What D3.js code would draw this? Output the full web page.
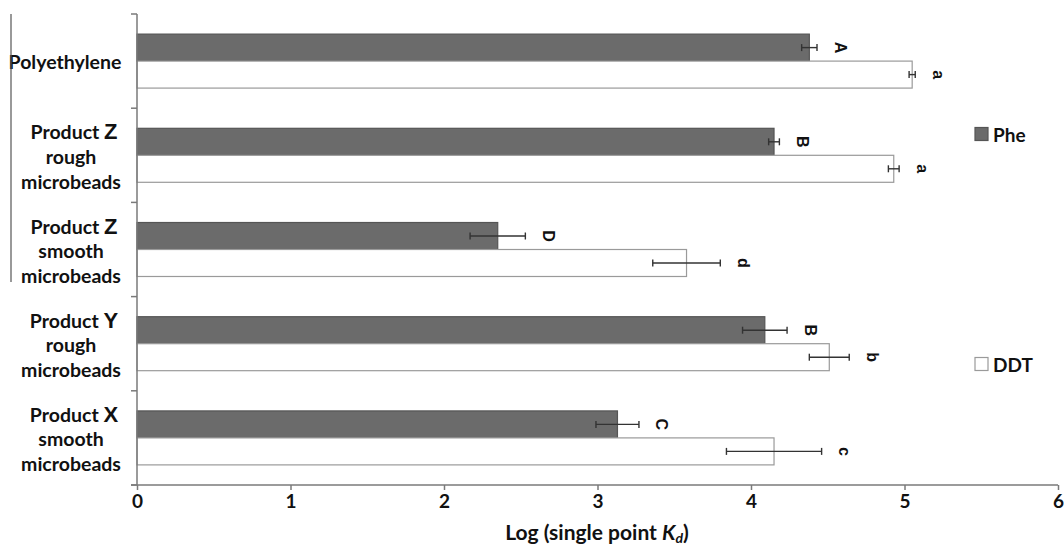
<!DOCTYPE html>
<html>
<head>
<meta charset="utf-8">
<script src="https://cdn.jsdelivr.net/npm/d3@7"></script>
<style>
  body { margin: 0; background: #fff; }
  svg text { font-family: Lato, "Open Sans", sans-serif; }
</style>
</head>
<body>
<div id="chart"></div>
<script>
// Data
const categories = ['Polyethylene', 'Product Z rough', 'Product Z smooth', 'Product Y rough', 'Product X smooth'];
const productLetters = ['', 'Z', 'Z', 'Y', 'X'];
const surfaceWords = ['', 'rough', 'smooth', 'rough', 'smooth'];
const series = ['Phe', 'DDT'];

const pheValues = [4.38, 4.15, 2.35, 4.09, 3.13];
const pheErrors = [0.05, 0.035, 0.18, 0.145, 0.14];
const pheLetters = ['A', 'B', 'D', 'B', 'C'];

const ddtValues = [5.05, 4.93, 3.58, 4.51, 4.15];
const ddtErrors = [0.02, 0.035, 0.22, 0.13, 0.31];
const ddtLetters = ['a', 'a', 'd', 'b', 'c'];

const xTicks = [0, 1, 2, 3, 4, 5, 6];

const width = 1064, height = 548;
const plotLeft = 137, plotRight = 1058, plotTop = 14, plotBottom = 485;

const svg = d3.select('#chart')
    .append('svg')
    .attr('width', width)
    .attr('height', height);

const x = d3.scaleLinear().domain([0, 6]).range([plotLeft, plotRight]);
const y = d3.scaleBand().domain(categories).range([plotTop, plotBottom]);
const ySub = d3.scaleBand().domain(series).range([0, y.bandwidth()]).paddingOuter(0.745);

const colors = { Phe: '#6b6b6b', DDT: '#ffffff' };
const strokes = { Phe: '#555555', DDT: '#9a9a9a' };

// rows per bar
const rows = [];
categories.forEach((c, i) => {
    rows.push({ cat: c, s: 'Phe', v: pheValues[i], e: pheErrors[i], l: pheLetters[i] });
    rows.push({ cat: c, s: 'DDT', v: ddtValues[i], e: ddtErrors[i], l: ddtLetters[i] });
});

// bars
svg.selectAll('.bar')
    .data(rows)
    .enter().append('rect')
    .attr('class', 'bar')
    .attr('x', x(0))
    .attr('y', d => y(d.cat) + ySub(d.s))
    .attr('width', d => x(d.v) - x(0))
    .attr('height', ySub.bandwidth())
    .attr('fill', d => colors[d.s])
    .attr('stroke', d => strokes[d.s])
    .attr('stroke-width', 1.2);

// error bars
const err = svg.append('g').attr('stroke', '#333').attr('stroke-width', 1.4);
rows.forEach(d => {
    const cy = y(d.cat) + ySub(d.s) + ySub.bandwidth() / 2;
    err.append('line').attr('x1', x(d.v - d.e)).attr('x2', x(d.v + d.e)).attr('y1', cy).attr('y2', cy);
    [d.v - d.e, d.v + d.e].forEach(xv => {
        err.append('line').attr('x1', x(xv)).attr('x2', x(xv)).attr('y1', cy - 3.5).attr('y2', cy + 3.5);
    });
});

// significance letters, rotated
svg.selectAll('.sig')
    .data(rows)
    .enter().append('text')
    .attr('class', 'sig')
    .attr('transform', d => {
        const cy = y(d.cat) + ySub(d.s) + ySub.bandwidth() / 2;
        return `translate(${x(d.v + d.e) + 23},${cy}) rotate(90)`;
    })
    .attr('text-anchor', 'middle')
    .attr('dominant-baseline', 'central')
    .style('font-family', '"Liberation Sans", Arial, sans-serif')
    .style('font-weight', 'bold')
    .style('font-size', '16px')
    .attr('fill', '#111')
    .text(d => d.l);

// axes
const axisColor = '#7a7a7a';
svg.append('line')
    .attr('x1', plotLeft).attr('x2', plotLeft).attr('y1', plotTop).attr('y2', plotBottom)
    .attr('stroke', axisColor).attr('stroke-width', 1.5);
svg.append('line')
    .attr('x1', plotLeft - 6).attr('x2', plotRight).attr('y1', plotBottom).attr('y2', plotBottom)
    .attr('stroke', axisColor).attr('stroke-width', 1.5);

// y ticks at category boundaries
const yBounds = categories.map(c => y(c)).concat([plotBottom]);
svg.selectAll('.ytick')
    .data(yBounds)
    .enter().append('line')
    .attr('x1', plotLeft - 6).attr('x2', plotLeft)
    .attr('y1', d => d).attr('y2', d => d)
    .attr('stroke', axisColor).attr('stroke-width', 1.5);

const xAxis = svg.append('g')
    .attr('transform', `translate(0,${plotBottom})`)
    .call(d3.axisBottom(x).tickValues(xTicks).tickSize(5).tickPadding(5).tickFormat(d3.format('d')));
xAxis.select('.domain').remove();
xAxis.selectAll('.tick line').attr('stroke', axisColor).attr('stroke-width', 1.5);
xAxis.selectAll('.tick text')
    .attr('fill', '#111')
    .style('font-family', 'Lato, sans-serif')
    .style('font-weight', 'bold')
    .style('font-size', '19px');

// x axis title
const title = svg.append('text')
    .attr('x', 597).attr('y', 540)
    .attr('text-anchor', 'middle')
    .style('font-weight', 'bold')
    .style('font-size', '21px')
    .attr('fill', '#111');
title.append('tspan').text('Log (single point ');
title.append('tspan').style('font-style', 'italic').text('K');
title.append('tspan').style('font-style', 'italic').style('font-size', '14px').attr('dy', 3).text('d');
title.append('tspan').attr('dy', -3).text(')');

// category labels
const labelX = 71;
categories.forEach((c, i) => {
    const cy = y(c) + y.bandwidth() / 2;
    const g = svg.append('g').style('font-weight', 'bold').style('font-size', '19.5px').attr('fill', '#111');
    if (!productLetters[i]) {
        g.append('text').attr('x', 65).attr('y', cy).attr('text-anchor', 'middle')
            .attr('dominant-baseline', 'central').text(c);
        return;
    }
    const l1 = g.append('text').attr('x', labelX + 3).attr('y', cy - 24).attr('text-anchor', 'middle')
        .attr('dominant-baseline', 'central');
    l1.append('tspan').text('Product ');
    l1.append('tspan').style('font-family', '"Liberation Sans", Arial, sans-serif')
        .style('font-size', '22px').text(productLetters[i]);
    g.append('text').attr('x', labelX).attr('y', cy + 1).attr('text-anchor', 'middle')
        .attr('dominant-baseline', 'central').text(surfaceWords[i]);
    g.append('text').attr('x', labelX).attr('y', cy + 26).attr('text-anchor', 'middle')
        .attr('dominant-baseline', 'central').text('microbeads');
});

// stray left frame line
svg.append('line')
    .attr('x1', 11).attr('x2', 11).attr('y1', plotTop).attr('y2', 282)
    .attr('stroke', '#555').attr('stroke-width', 1.2);

// legend
const legendY = [134, 364];
series.forEach((s, i) => {
    svg.append('rect')
        .attr('x', 975).attr('y', legendY[i] - 6.5)
        .attr('width', 13).attr('height', 13)
        .attr('fill', colors[s]).attr('stroke', strokes[s]).attr('stroke-width', 1.2);
    svg.append('text')
        .attr('x', 993).attr('y', legendY[i])
        .attr('dominant-baseline', 'central')
        .style('font-weight', 'bold').style('font-size', '19px').attr('fill', '#111')
        .text(s);
});
</script>
</body>
</html>
